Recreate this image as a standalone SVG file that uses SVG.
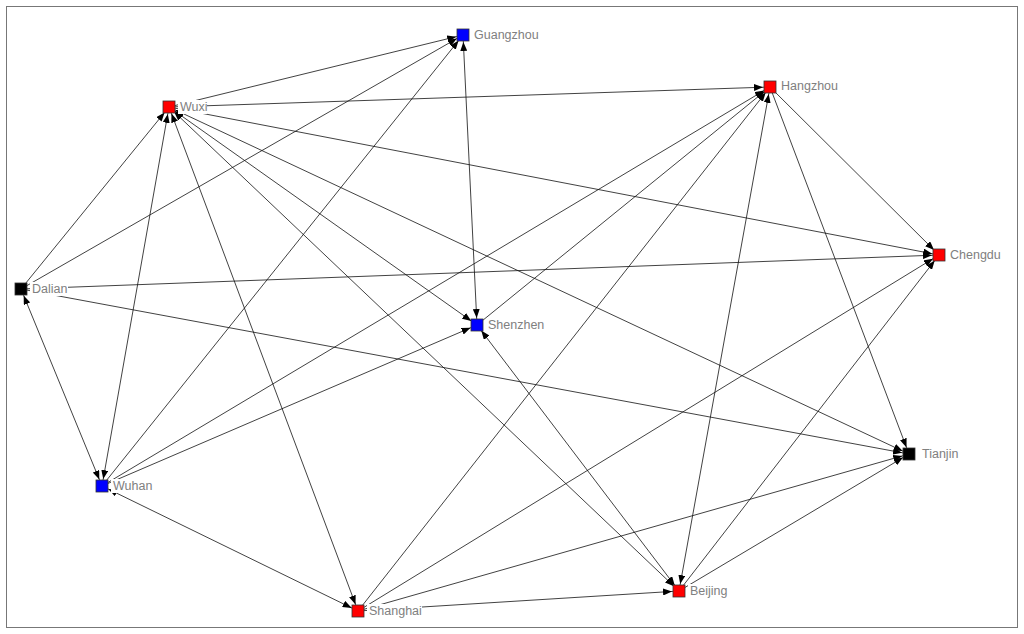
<svg xmlns="http://www.w3.org/2000/svg" width="1024" height="634" viewBox="0 0 1024 634">
<style>
.e{stroke:#111;stroke-width:0.8;fill:none;marker-end:url(#a)}
.b{marker-start:url(#a)}
.n{stroke:#333;stroke-width:0.8}
.r{fill:#ff0000}.bl{fill:#0000ff}.k{fill:#000}
.bg{fill:#fff}
text{font-family:"Liberation Sans",Arial,sans-serif;font-size:12.5px;fill:#808080}
</style>
<defs>
<marker id="a" markerUnits="userSpaceOnUse" markerWidth="9" markerHeight="7" viewBox="0 0 9 7" refX="16" refY="3.5" orient="auto-start-reverse"><path d="M0,0 L9,3.5 L0,7 z" fill="#000"/></marker>
</defs>
<rect x="0" y="0" width="1024" height="634" fill="#fff"/>
<rect x="6.5" y="6.5" width="1011" height="621" fill="none" stroke="#777" stroke-width="1"/>
<g id="edges">
<line class="e" x1="169" y1="107" x2="463" y2="35"/>
<line class="e" x1="169" y1="107" x2="770" y2="87"/>
<line class="e" x1="169" y1="107" x2="939" y2="255"/>
<line class="e b" x1="169" y1="107" x2="477" y2="325"/>
<line class="e b" x1="169" y1="107" x2="679" y2="591"/>
<line class="e b" x1="169" y1="107" x2="909" y2="454"/>
<line class="e b" x1="169" y1="107" x2="358" y2="611"/>
<line class="e b" x1="169" y1="107" x2="102" y2="486"/>
<line class="e" x1="21" y1="289" x2="169" y2="107"/>
<line class="e" x1="21" y1="289" x2="463" y2="35"/>
<line class="e b" x1="21" y1="289" x2="102" y2="486"/>
<line class="e" x1="21" y1="289" x2="939" y2="255"/>
<line class="e" x1="21" y1="289" x2="909" y2="454"/>
<line class="e" x1="102" y1="486" x2="463" y2="35"/>
<line class="e b" x1="463" y1="35" x2="477" y2="325"/>
<line class="e" x1="102" y1="486" x2="477" y2="325"/>
<line class="e" x1="102" y1="486" x2="770" y2="87"/>
<line class="e" x1="477" y1="325" x2="770" y2="87"/>
<line class="e" x1="358" y1="611" x2="770" y2="87"/>
<line class="e b" x1="679" y1="591" x2="770" y2="87"/>
<line class="e" x1="770" y1="87" x2="939" y2="255"/>
<line class="e" x1="770" y1="87" x2="909" y2="454"/>
<line class="e" x1="358" y1="611" x2="939" y2="255"/>
<line class="e" x1="679" y1="591" x2="939" y2="255"/>
<line class="e" x1="358" y1="611" x2="909" y2="454"/>
<line class="e" x1="679" y1="591" x2="909" y2="454"/>
<line class="e" x1="358" y1="611" x2="679" y2="591"/>
<line class="e b" x1="358" y1="611" x2="102" y2="486"/>
<line class="e b" x1="477" y1="325" x2="679" y2="591"/>
</g>
<g id="Guangzhou"><rect class="bg" x="472" y="28" width="67" height="14"/><rect class="n bl" x="457" y="29" width="12" height="12"/><text x="474" y="39">Guangzhou</text></g>
<g id="Wuxi"><rect class="bg" x="178" y="100" width="29" height="14"/><rect class="n r" x="163" y="101" width="12" height="12"/><text x="180" y="111">Wuxi</text></g>
<g id="Hangzhou"><rect class="bg" x="779" y="80" width="58" height="14"/><rect class="n r" x="764" y="81" width="12" height="12"/><text x="781" y="90">Hangzhou</text></g>
<g id="Chengdu"><rect class="bg" x="948" y="248" width="52" height="14"/><rect class="n r" x="933" y="249" width="12" height="12"/><text x="950" y="259">Chengdu</text></g>
<g id="Dalian"><rect class="bg" x="30" y="282" width="38" height="14"/><rect class="n k" x="15" y="283" width="12" height="12"/><text x="32" y="293">Dalian</text></g>
<g id="Shenzhen"><rect class="bg" x="486" y="318" width="57" height="14"/><rect class="n bl" x="471" y="319" width="12" height="12"/><text x="488" y="329">Shenzhen</text></g>
<g id="Tianjin"><rect class="bg" x="920" y="447" width="40" height="14"/><rect class="n k" x="903" y="448" width="12" height="12"/><text x="922" y="458">Tianjin</text></g>
<g id="Wuhan"><rect class="bg" x="111" y="479" width="40" height="14"/><rect class="n bl" x="96" y="480" width="12" height="12"/><text x="113" y="490">Wuhan</text></g>
<g id="Shanghai"><rect class="bg" x="367" y="604" width="55" height="14"/><rect class="n r" x="352" y="605" width="12" height="12"/><text x="369" y="615">Shanghai</text></g>
<g id="Beijing"><rect class="bg" x="688" y="584" width="42" height="14"/><rect class="n r" x="673" y="585" width="12" height="12"/><text x="690" y="595">Beijing</text></g>
</svg>
